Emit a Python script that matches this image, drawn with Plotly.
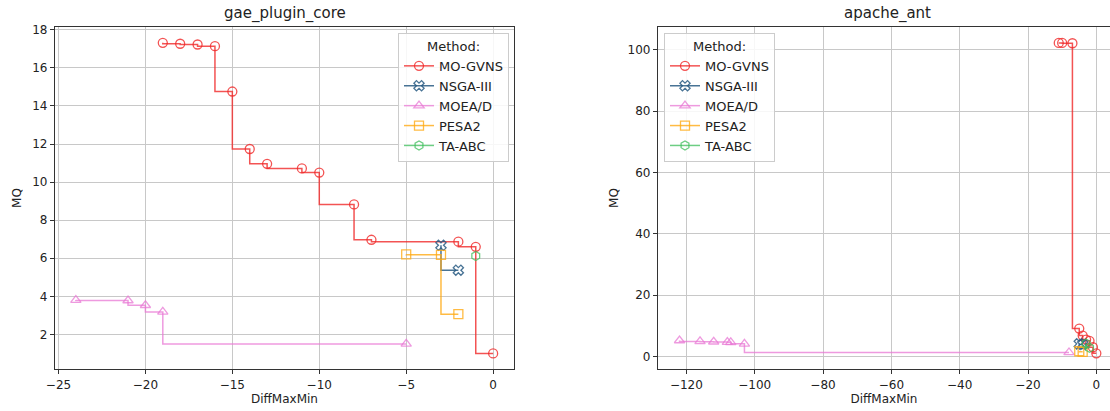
import plotly.graph_objects as go

W, H = 1110, 411

methods = ["MO-GVNS", "NSGA-III", "MOEA/D", "PESA2", "TA-ABC"]

# gae_plugin_core
gae_mogvns_x = [-19, -18, -17, -16, -15, -14, -13, -11, -10, -8, -7, -2, -1, 0]
gae_mogvns_y = [17.32, 17.27, 17.23, 17.14, 14.76, 11.74, 10.96, 10.72, 10.5, 8.83, 6.97, 6.87, 6.6, 1.0]
gae_nsga_x = [-3, -2]
gae_nsga_y = [6.68, 5.37]
gae_moead_x = [-24, -21, -20, -19, -5]
gae_moead_y = [3.8, 3.78, 3.53, 3.18, 1.5]
gae_pesa_x = [-5, -3, -2]
gae_pesa_y = [6.2, 6.18, 3.06]
gae_taabc_x = [-1]
gae_taabc_y = [6.12]

# apache_ant
ant_mogvns_x = [-11, -10, -7, -5, -4, -3, -2, -1, 0]
ant_mogvns_y = [102.3, 102.3, 102.2, 9.1, 6.8, 5.5, 5.1, 3.0, 1.0]
ant_nsga_x = [-5, -4]
ant_nsga_y = [4.1, 3.9]
ant_moead_x = [-122, -116, -112, -108, -107, -103, -8]
ant_moead_y = [5.2, 4.9, 4.8, 4.7, 4.6, 4.1, 1.3]
ant_pesa_x = [-5, -4]
ant_pesa_y = [1.7, 1.5]
ant_taabc_x = [-3, -2]
ant_taabc_y = [4.2, 2.8]

colors = {
    "MO-GVNS": "rgba(240,40,40,0.8)",
    "NSGA-III": "rgba(40,90,130,0.85)",
    "MOEA/D": "rgba(232,120,212,0.75)",
    "PESA2": "rgba(255,170,20,0.8)",
    "TA-ABC": "rgba(60,190,90,0.75)",
}
symbols = {
    "MO-GVNS": "circle-open",
    "NSGA-III": "x-open",
    "MOEA/D": "triangle-up-open",
    "PESA2": "square-open",
    "TA-ABC": "hexagon-open",
}

gae = {
    "MO-GVNS": (gae_mogvns_x, gae_mogvns_y),
    "NSGA-III": (gae_nsga_x, gae_nsga_y),
    "MOEA/D": (gae_moead_x, gae_moead_y),
    "PESA2": (gae_pesa_x, gae_pesa_y),
    "TA-ABC": (gae_taabc_x, gae_taabc_y),
}
ant = {
    "MO-GVNS": (ant_mogvns_x, ant_mogvns_y),
    "NSGA-III": (ant_nsga_x, ant_nsga_y),
    "MOEA/D": (ant_moead_x, ant_moead_y),
    "PESA2": (ant_pesa_x, ant_pesa_y),
    "TA-ABC": (ant_taabc_x, ant_taabc_y),
}

fig = go.Figure()
for data, xa, ya, lg in [(gae, "x", "y", "legend"), (ant, "x2", "y2", "legend2")]:
    for m in methods:
        xs, ys = data[m]
        fig.add_trace(go.Scatter(
            x=xs, y=ys, mode="lines+markers", name=m,
            line=dict(color=colors[m], width=1.5, shape="vh"),
            marker=dict(symbol=symbols[m], size=9, color=colors[m],
                        line=dict(width=1.3, color=colors[m])),
            xaxis=xa, yaxis=ya, legend=lg,
        ))

font = dict(family="DejaVu Sans", size=12, color="#222")
lfont = dict(family="DejaVu Sans", size=13, color="#222")
ax_common = dict(
    showgrid=True, gridcolor="#c8c8c8", gridwidth=1,
    showline=True, linecolor="#333", linewidth=1.2, mirror=True,
    ticks="outside", ticklen=4, tickcolor="#333", tickfont=font,
    zeroline=False, title_font=font, automargin=False,
)

y0 = 1 - 369 / H
y1 = 1 - 27 / H
legend_common = dict(
    xanchor="left", yanchor="top", y=1 - 33 / H,
    bgcolor="rgba(255,255,255,0.85)", bordercolor="#ccc", borderwidth=1,
    title=dict(text="Method:", side="top center", font=lfont), font=lfont,
    tracegroupgap=0, itemwidth=30,
)
fig.update_layout(
    width=W, height=H,
    margin=dict(l=0, r=0, t=0, b=0),
    paper_bgcolor="white", plot_bgcolor="white",
    font=font,
    xaxis=dict(domain=[55 / W, 514 / W], range=[-25.2, 1.2], dtick=5,
               title=dict(text="DiffMaxMin", standoff=4), **ax_common),
    yaxis=dict(domain=[y0, y1], range=[0.18, 18.15], dtick=2,
               title=dict(text="MQ", standoff=8), anchor="x", **ax_common),
    xaxis2=dict(domain=[658 / W, 1.0], range=[-128.3, 4.0], dtick=20,
                title=dict(text="DiffMaxMin", standoff=4), anchor="y2", **ax_common),
    yaxis2=dict(domain=[y0, y1], range=[-4.1, 107.5], dtick=20,
                title=dict(text="MQ", standoff=6), anchor="x2", **ax_common),
    legend=dict(x=398 / W, **legend_common),
    legend2=dict(x=664 / W, **legend_common),
    annotations=[
        dict(text="gae_plugin_core", x=284.5 / W, y=1 - 14 / H, xref="paper", yref="paper",
             xanchor="center", yanchor="middle", showarrow=False,
             font=dict(family="DejaVu Sans", size=15, color="#222")),
        dict(text="apache_ant", x=887.5 / W, y=1 - 14 / H, xref="paper", yref="paper",
             xanchor="center", yanchor="middle", showarrow=False,
             font=dict(family="DejaVu Sans", size=15, color="#222")),
    ],
)

fig.write_html("out.html", config={"displayModeBar": False},
               post_script="document.body.style.margin='0px';document.body.style.overflow='hidden';")
